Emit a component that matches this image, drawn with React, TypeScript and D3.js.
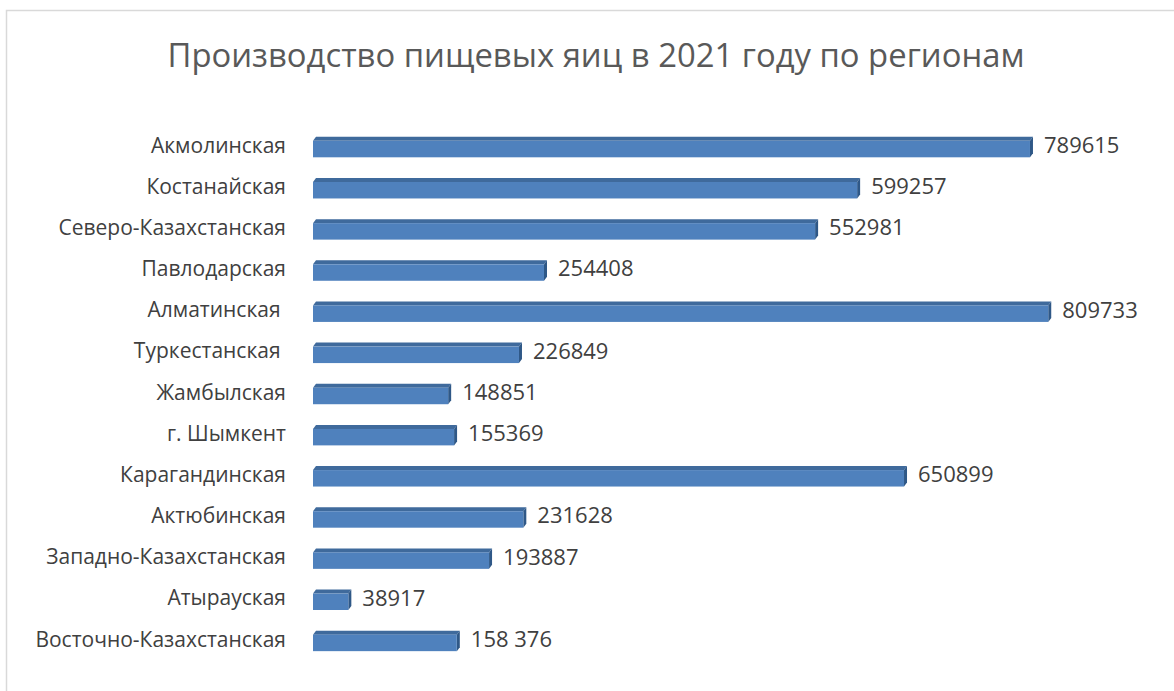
import React, { useEffect, useRef } from 'react';
import * as d3 from 'd3';

const REGIONS = [
  'Акмолинская',
  'Костанайская',
  'Северо-Казахстанская',
  'Павлодарская',
  'Алматинская ',
  'Туркестанская ',
  'Жамбылская',
  'г. Шымкент',
  'Карагандинская',
  'Актюбинская',
  'Западно-Казахстанская',
  'Атырауская',
  'Восточно-Казахстанская',
];
const VALUES = [789615, 599257, 552981, 254408, 809733, 226849, 148851, 155369, 650899, 231628, 193887, 38917, 158376];
const VALUE_LABELS = ['789615', '599257', '552981', '254408', '809733', '226849', '148851', '155369', '650899', '231628', '193887', '38917', '158 376'];
const TITLE = 'Производство пищевых яиц в 2021 году по регионам';

const W = 1174;
const H = 691;
const FRONT = '#4f81bd';
const TOP = '#3f6a9c';
const SIDE = '#2f5887';
const FONT = '"Open Sans", "Noto Sans", sans-serif';

const App: React.FC = () => {
  const ref = useRef<SVGSVGElement>(null);

  useEffect(() => {
    if (!ref.current) return;
    const svg = d3.select(ref.current);
    svg.selectAll('*').remove();

    // chart frame
    svg.append('rect')
      .attr('x', 6.5).attr('y', 10.5)
      .attr('width', W + 20).attr('height', H + 20)
      .attr('fill', '#fff').attr('stroke', '#d9d9d9').attr('stroke-width', 1.5);

    svg.append('text')
      .attr('x', 596).attr('y', 67)
      .attr('text-anchor', 'middle')
      .attr('textLength', 857)
      .attr('lengthAdjust', 'spacingAndGlyphs')
      .style('font-family', FONT)
      .style('font-size', '32px')
      .style('font-weight', 400)
      .style('fill', '#595959')
      .text(TITLE);

    const x = d3.scaleLinear().domain([0, 900000]).range([313, 1130.2]);
    const y = d3.scaleBand<string>()
      .domain(REGIONS)
      .range([128.5, 663.5])
      .paddingInner(0.6)
      .paddingOuter(0.3);

    const dx = 3;
    const dy = -4;
    const bh = y.bandwidth();

    const g = svg.append('g');
    REGIONS.forEach((r, i) => {
      const x0 = x(0);
      const x1 = x(VALUES[i]);
      const y0 = y(r) || 0;
      // top face
      g.append('path')
        .attr('d', `M${x0},${y0} L${x0 + dx},${y0 + dy} L${x1 + dx},${y0 + dy} L${x1},${y0} Z`)
        .attr('fill', TOP);
      // side face
      g.append('path')
        .attr('d', `M${x1},${y0} L${x1 + dx},${y0 + dy} L${x1 + dx},${y0 + bh + dy} L${x1},${y0 + bh} Z`)
        .attr('fill', SIDE);
      // front face
      g.append('rect')
        .attr('x', x0).attr('y', y0)
        .attr('width', x1 - x0).attr('height', bh)
        .attr('fill', FRONT);

      g.append('text')
        .attr('x', x1 + dx + 11)
        .attr('y', y0 + bh / 2 - 2)
        .attr('dominant-baseline', 'middle')
        .style('font-family', FONT)
        .style('font-size', '22px')
        .style('fill', '#404040')
        .text(VALUE_LABELS[i]);

      g.append('text')
        .attr('x', 286)
        .attr('y', y0 + bh / 2 - 2)
        .attr('text-anchor', 'end')
        .attr('dominant-baseline', 'middle')
        .style('white-space', 'pre')
        .style('font-family', FONT)
        .style('font-size', '21px')
        .style('fill', '#404040')
        .text(r);
    });
  }, []);

  return (
    <svg
      ref={ref}
      width={W}
      height={H}
      style={{ position: 'fixed', left: 0, top: 0, background: '#fff' }}
    />
  );
};

export default App;
